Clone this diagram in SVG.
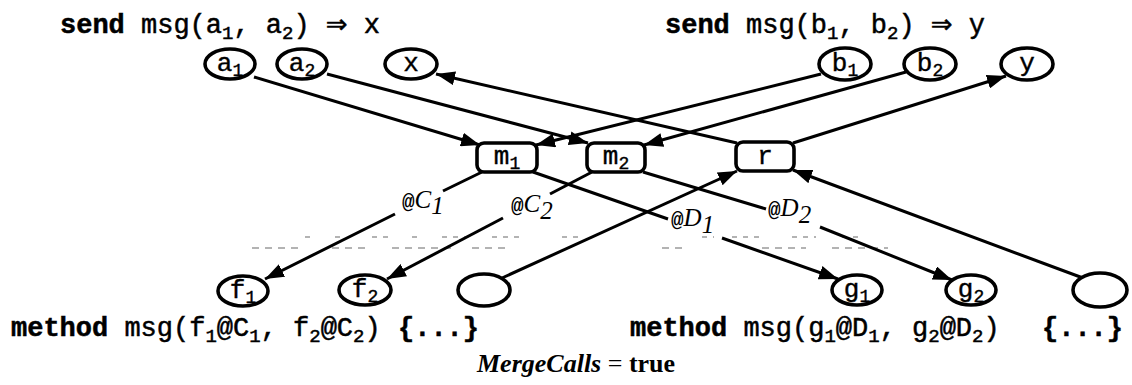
<svg xmlns="http://www.w3.org/2000/svg" width="1132" height="385" viewBox="0 0 1132 385">
  <style>
    .code { font-family: "Liberation Mono", "DejaVu Sans Mono", monospace; font-size: 27px; fill: #000; stroke: #000; stroke-width: 0.5; }
    .kw { font-weight: bold; }
    .sub { font-size: 19px; }
    .arr { font-family: "DejaVu Sans", sans-serif; font-size: 26px; }
    .node { fill: #fff; stroke: #000; stroke-width: 3.6; }
    .nlabel { font-family: "Liberation Mono", "DejaVu Sans Mono", monospace; font-size: 26px; fill: #000; stroke: #000; stroke-width: 0.4; text-anchor: middle; }
    .nsub { font-size: 18px; }
    .edge { fill: none; stroke: #000; stroke-width: 3; }
    .elabel { font-family: "Liberation Serif", "DejaVu Serif", serif; font-style: italic; font-size: 25px; fill: #000; }
    .at { font-family: "Liberation Mono", monospace; font-style: normal; font-size: 21px; font-weight: bold; }
    .scan { fill: none; stroke: #9a9a9a; stroke-width: 1.3; }
    .caption { font-family: "Liberation Serif", "DejaVu Serif", serif; font-size: 26px; fill: #000; }
  </style>
  <defs>
    <marker id="arrow" markerUnits="userSpaceOnUse" markerWidth="20" markerHeight="14" refX="19" refY="7" orient="auto">
      <path d="M0,0 L19,7 L0,14 z" fill="#000"/>
    </marker>
  </defs>

  <!-- call sites -->
  <text class="code" x="60" y="33"><tspan class="kw">send</tspan> msg(a<tspan class="sub" dy="6">1</tspan><tspan dy="-6">, a</tspan><tspan class="sub" dy="6">2</tspan><tspan dy="-6">) </tspan><tspan class="arr">⇒</tspan> x</text>
  <text class="code" x="665" y="33"><tspan class="kw">send</tspan> msg(b<tspan class="sub" dy="6">1</tspan><tspan dy="-6">, b</tspan><tspan class="sub" dy="6">2</tspan><tspan dy="-6">) </tspan><tspan class="arr">⇒</tspan> y</text>

  <!-- method declarations -->
  <text class="code" x="11" y="336"><tspan class="kw">method</tspan> msg(f<tspan class="sub" dy="6">1</tspan><tspan dy="-6">@C</tspan><tspan class="sub" dy="6">1</tspan><tspan dy="-6">, f</tspan><tspan class="sub" dy="6">2</tspan><tspan dy="-6">@C</tspan><tspan class="sub" dy="6">2</tspan><tspan dy="-6">) </tspan><tspan class="kw" x="398">{...}</tspan></text>
  <text class="code" x="630" y="336"><tspan class="kw">method</tspan> msg(g<tspan class="sub" dy="6">1</tspan><tspan dy="-6">@D</tspan><tspan class="sub" dy="6">1</tspan><tspan dy="-6">, g</tspan><tspan class="sub" dy="6">2</tspan><tspan dy="-6">@D</tspan><tspan class="sub" dy="6">2</tspan><tspan dy="-6">) </tspan><tspan class="kw" x="1042">{...}</tspan></text>

  <text class="caption" x="477" y="372"><tspan font-weight="bold" font-style="italic">MergeCalls</tspan> = <tspan font-weight="bold">true</tspan></text>

  <!-- faint broken rules -->
  <path class="scan" d="M305,237 h8 M335,237 h10 M372,237 h20 M412,237 h6 M442,237 h24 M492,237 h30 M562,237 h16 M702,237 h12 M732,237 h30 M792,237 h24 M842,237 h20" stroke-dasharray="5 6"/>
  <path class="scan" d="M252,248 h50 M332,248 h36 M392,248 h60 M472,248 h34 M662,248 h26 M762,248 h44 M832,248 h56" stroke-dasharray="7 6"/>

  <!-- connectors -->
  <g id="connectors">
    <line class="edge" x1="254" y1="77" x2="480" y2="145" marker-end="url(#arrow)"/>
    <line class="edge" x1="327" y1="74" x2="588" y2="143" marker-end="url(#arrow)"/>
    <line class="edge" x1="821" y1="74" x2="536" y2="145" marker-end="url(#arrow)"/>
    <line class="edge" x1="906" y1="72" x2="644" y2="145" marker-end="url(#arrow)"/>
    <line class="edge" x1="737" y1="143" x2="436" y2="74" marker-end="url(#arrow)"/>
    <line class="edge" x1="793" y1="143" x2="1006" y2="76" marker-end="url(#arrow)"/>

    <!-- m1 to f1, broken around @C1 -->
    <line class="edge" x1="482" y1="172" x2="443" y2="191"/>
    <line class="edge" x1="395" y1="214" x2="265" y2="279" marker-end="url(#arrow)"/>
    <!-- m2 to f2, broken around @C2 -->
    <line class="edge" x1="592" y1="172" x2="550" y2="194"/>
    <line class="edge" x1="503" y1="218" x2="387" y2="279" marker-end="url(#arrow)"/>
    <!-- m1 to g1, broken around @D1 -->
    <line class="edge" x1="533" y1="172" x2="668" y2="219"/>
    <line class="edge" x1="722" y1="238" x2="838" y2="279" marker-end="url(#arrow)"/>
    <!-- m2 to g2, broken around @D2 -->
    <line class="edge" x1="643" y1="172" x2="766" y2="209"/>
    <line class="edge" x1="820" y1="227" x2="952" y2="280" marker-end="url(#arrow)"/>

    <line class="edge" x1="502" y1="278" x2="737" y2="171" marker-end="url(#arrow)"/>
    <line class="edge" x1="1083" y1="278" x2="793" y2="170" marker-end="url(#arrow)"/>
  </g>

  <!-- edge labels -->
  <text class="elabel" x="402" y="208"><tspan class="at">@</tspan>C<tspan dy="6">1</tspan></text>
  <text class="elabel" x="511" y="212"><tspan class="at">@</tspan>C<tspan dy="7">2</tspan></text>
  <text class="elabel" x="671" y="226"><tspan class="at">@</tspan>D<tspan dy="7">1</tspan></text>
  <text class="elabel" x="768" y="216"><tspan class="at">@</tspan>D<tspan dy="7">2</tspan></text>

  <!-- argument / result nodes -->
  <g id="a1"><ellipse class="node" cx="230" cy="64" rx="25" ry="15"/><text class="nlabel" x="230" y="71">a<tspan class="nsub" dy="5">1</tspan></text></g>
  <g id="a2"><ellipse class="node" cx="302" cy="64" rx="25" ry="15"/><text class="nlabel" x="302" y="71">a<tspan class="nsub" dy="5">2</tspan></text></g>
  <g id="x"><ellipse class="node" cx="411" cy="64" rx="26" ry="15"/><text class="nlabel" x="411" y="71">x</text></g>
  <g id="b1"><ellipse class="node" cx="845" cy="64" rx="26" ry="16"/><text class="nlabel" x="845" y="71">b<tspan class="nsub" dy="5">1</tspan></text></g>
  <g id="b2"><ellipse class="node" cx="930" cy="64" rx="26" ry="16"/><text class="nlabel" x="930" y="71">b<tspan class="nsub" dy="5">2</tspan></text></g>
  <g id="y"><ellipse class="node" cx="1027" cy="64" rx="26" ry="16"/><text class="nlabel" x="1027" y="71">y</text></g>

  <!-- merge / result boxes -->
  <g id="m1"><rect class="node" x="477" y="143" width="60" height="29" rx="7"/><text class="nlabel" x="507" y="164">m<tspan class="nsub" dy="5">1</tspan></text></g>
  <g id="m2"><rect class="node" x="587" y="143" width="58" height="29" rx="7"/><text class="nlabel" x="616" y="164">m<tspan class="nsub" dy="5">2</tspan></text></g>
  <g id="r"><rect class="node" x="736" y="142" width="58" height="29" rx="7"/><text class="nlabel" x="765" y="164">r</text></g>

  <!-- parameter nodes -->
  <g id="f1"><ellipse class="node" cx="243" cy="291" rx="25" ry="15"/><text class="nlabel" x="243" y="298">f<tspan class="nsub" dy="5">1</tspan></text></g>
  <g id="f2"><ellipse class="node" cx="365" cy="290" rx="26" ry="15"/><text class="nlabel" x="365" y="297">f<tspan class="nsub" dy="5">2</tspan></text></g>
  <g id="p3"><ellipse class="node" cx="484" cy="290" rx="26" ry="16"/></g>
  <g id="g1"><ellipse class="node" cx="857" cy="290" rx="25" ry="15"/><text class="nlabel" x="857" y="297">g<tspan class="nsub" dy="5">1</tspan></text></g>
  <g id="g2"><ellipse class="node" cx="971" cy="290" rx="25" ry="15"/><text class="nlabel" x="971" y="297">g<tspan class="nsub" dy="5">2</tspan></text></g>
  <g id="q3"><ellipse class="node" cx="1100" cy="290" rx="27" ry="17"/></g>
</svg>
